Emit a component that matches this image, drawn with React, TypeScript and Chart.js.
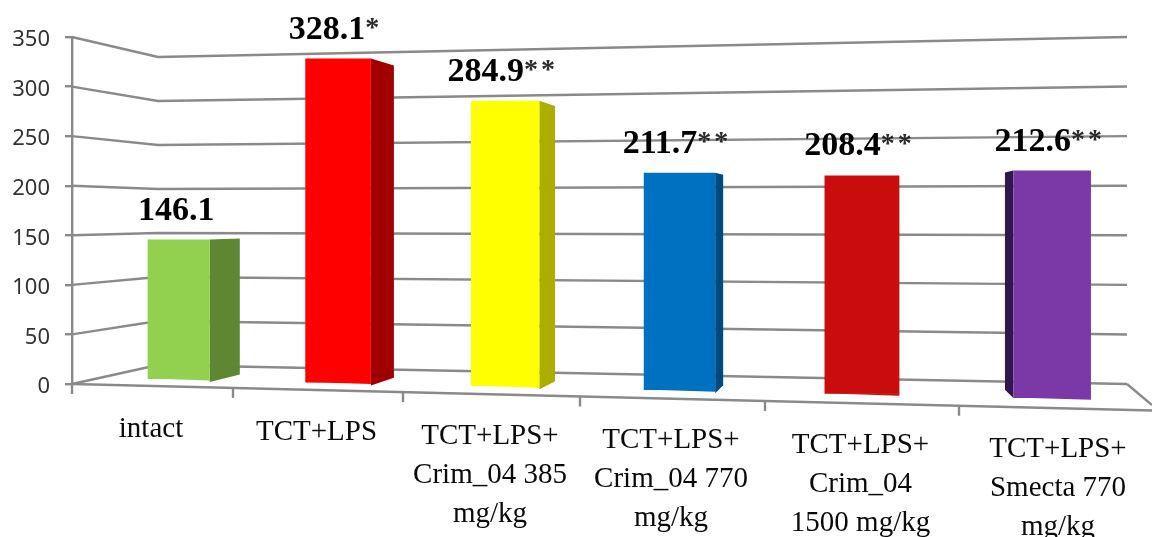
import React, { useEffect, useRef } from "react";
import { Chart, registerables, CategoryScale } from "chart.js";

Chart.register(...registerables);

// Chart content
const categories: string[][] = [
  ["intact"],
  ["TCT+LPS"],
  ["TCT+LPS+", "Crim_04 385", "mg/kg"],
  ["TCT+LPS+", "Crim_04 770", "mg/kg"],
  ["TCT+LPS+", "Crim_04", "1500 mg/kg"],
  ["TCT+LPS+", "Smecta 770", "mg/kg"],
];
const values = [146.1, 328.1, 284.9, 211.7, 208.4, 212.6];
const significance = ["", "*", "**", "**", "**", "**"];
const frontColors = ["#92D050", "#FF0000", "#FFFF00", "#0070C0", "#C90D0D", "#7B39A8"];
const sideColors = ["#5F8733", "#A00000", "#ADAD00", "#004A80", "#8A0808", "#31154F"];

// Perspective set-up of the floor and walls, in canvas pixels
const floorEdges = [72, 233, 403, 580, 765, 959, 1160];
const VANISH_X = 861;
const HORIZON_Y = 215;
const WALL_BACK_X = 158;
const WALL_RIGHT_X = 1127;
const CANVAS_RIGHT = 1152;
const GRID = "#8A8A8A";

const floorMid = (i: number) => (floorEdges[i] + floorEdges[i + 1]) / 2;
const barCentre = (i: number) => {
  const mid = floorMid(i);
  return mid + 0.037 * (VANISH_X - mid);
};
const frontFloorY = (zero: number, x: number) => zero + (x - floorEdges[0]) * 0.0245;
const barBaseY = (zero: number, x: number) => zero - 5 + (x - 147) * 0.0219;
const barDepthY = (y: number) => y + 0.045 * (HORIZON_Y - y);
const wallBackY = (y: number) => y + 0.112 * (HORIZON_Y - y);

// Category axis whose slots follow the receding floor
class FloorCategoryScale extends (CategoryScale as any) {
  static id = "floorCategory";
  static defaults = (CategoryScale as any).defaults;

  getPixelForValue(value: any) {
    const i = typeof value === "number" ? value : (this as any).parse(value);
    return barCentre(i);
  }

  _computeLabelItems(chartArea: any) {
    const items = super._computeLabelItems(chartArea);
    items.forEach((item: any, i: number) => {
      const x = floorMid(i);
      item.textOffset = 0;
      item.options.textAlign = "center";
      item.options.textBaseline = "middle";
      item.options.translation = [x - 1.5, 429 + (x - 151) * 0.0225];
    });
    return items;
  }
}
Chart.register(FloorCategoryScale as any);

const line = (ctx: CanvasRenderingContext2D, pts: number[][]) => {
  ctx.beginPath();
  pts.forEach(([x, y], i) => (i ? ctx.lineTo(x, y) : ctx.moveTo(x, y)));
  ctx.stroke();
};
const fillPoly = (ctx: CanvasRenderingContext2D, pts: number[][], color: string) => {
  ctx.fillStyle = color;
  ctx.beginPath();
  pts.forEach(([x, y], i) => (i ? ctx.lineTo(x, y) : ctx.moveTo(x, y)));
  ctx.closePath();
  ctx.fill();
};

const perspectivePlugin = {
  id: "perspective",
  // Bars stand on the tilted floor and widen towards the viewer
  afterDatasetsUpdate(chart: any) {
    const zero = chart.scales.y.getPixelForValue(0);
    chart.getDatasetMeta(0).data.forEach((el: any, i: number) => {
      const width = 0.386 * (floorEdges[i + 1] - floorEdges[i]);
      el.width = width;
      el.base = barBaseY(zero, el.x - width / 2);
      el.y = el.y - 0.0035 * (el.x - 300);
    });
  },
  // Walls, floor and the depth faces of the bars
  beforeDatasetsDraw(chart: any) {
    const { ctx, scales } = chart;
    const yScale = scales.y;
    const zero = yScale.getPixelForValue(0);
    ctx.save();
    ctx.strokeStyle = GRID;
    ctx.lineWidth = 2.4;
    yScale.ticks.forEach((tick: any) => {
      const y = yScale.getPixelForValue(tick.value);
      line(ctx, [
        [floorEdges[0], y],
        [WALL_BACK_X, wallBackY(y)],
        [WALL_RIGHT_X, y],
      ]);
    });
    line(ctx, [
      [WALL_RIGHT_X, zero],
      [CANVAS_RIGHT, zero + 21],
    ]);
    line(ctx, [
      [floorEdges[0], zero],
      [CANVAS_RIGHT, frontFloorY(zero, CANVAS_RIGHT)],
    ]);
    floorEdges.forEach((x) => {
      const y = frontFloorY(zero, x);
      line(ctx, [
        [x, x === floorEdges[0] ? zero - 1 : y],
        [x, y + 10],
      ]);
    });
    chart.getDatasetMeta(0).data.forEach((el: any, i: number) => {
      const depth = 0.044 * (VANISH_X - el.x);
      if (Math.abs(depth) < 1) return;
      const half = el.width / 2;
      const edge = depth > 0 ? el.x + half : el.x - half;
      const bottom = barBaseY(zero, edge) + (depth > 0 ? 0.0245 * el.width : 0);
      fillPoly(
        ctx,
        [
          [edge, el.y],
          [edge + depth, barDepthY(el.y)],
          [edge + depth, barDepthY(bottom)],
          [edge, bottom],
        ],
        sideColors[i]
      );
    });
    ctx.restore();
  },
  // Sloped lower edge of the bars and the value captions
  afterDatasetsDraw(chart: any) {
    const { ctx } = chart;
    const meta = chart.getDatasetMeta(0);
    ctx.save();
    meta.data.forEach((el: any, i: number) => {
      const half = el.width / 2;
      fillPoly(
        ctx,
        [
          [el.x - half, el.base - 0.5],
          [el.x + half, el.base - 0.5],
          [el.x + half, el.base + 0.0245 * el.width],
        ],
        frontColors[i]
      );

      const number = values[i].toFixed(1);
      const stars = significance[i];
      ctx.textBaseline = "alphabetic";
      ctx.textAlign = "left";
      ctx.font = 'bold 34px "Liberation Serif"';
      ctx.letterSpacing = "0px";
      const numberWidth = ctx.measureText(number).width;
      ctx.font = 'bold 28px "Liberation Serif"';
      ctx.letterSpacing = "3px";
      const starsWidth = ctx.measureText(stars).width;
      ctx.letterSpacing = "0px";
      const left = el.x - 2.5 - (numberWidth + starsWidth) / 2;
      const baseline = el.y - 20;
      ctx.fillStyle = "#000000";
      ctx.font = 'bold 34px "Liberation Serif"';
      ctx.fillText(number, left, baseline);
      if (stars) {
        ctx.fillStyle = "#2A2A2A";
        ctx.font = 'bold 28px "Liberation Serif"';
        ctx.letterSpacing = "3px";
        ctx.fillText(stars, left + numberWidth, baseline - 3);
        ctx.letterSpacing = "0px";
      }
    });
    ctx.restore();
  },
};

export default function App() {
  const canvasRef = useRef<HTMLCanvasElement>(null);

  useEffect(() => {
    const chart = new Chart(canvasRef.current as HTMLCanvasElement, {
      type: "bar",
      data: {
        labels: categories as any,
        datasets: [
          {
            data: values,
            backgroundColor: frontColors,
            borderWidth: 0,
            clip: false as any,
          },
        ],
      },
      options: {
        responsive: false,
        animation: false,
        layout: { padding: { top: 37, left: 0, right: 0, bottom: 0 } },
        plugins: { legend: { display: false }, tooltip: { enabled: false } },
        scales: {
          x: {
            type: "floorCategory" as any,
            grid: { display: false },
            border: { display: false },
            ticks: {
              autoSkip: false,
              maxRotation: 0,
              minRotation: 0,
              color: "#0A0A0A",
              font: { family: '"Liberation Serif"', size: 29, lineHeight: 1.345 },
            },
            afterFit(scale: any) {
              scale.height = 153;
              scale.paddingLeft = 0;
              scale.paddingRight = 0;
            },
          },
          y: {
            min: 0,
            max: 350,
            ticks: {
              stepSize: 50,
              padding: 15,
              labelOffset: 3,
              color: "#333333",
              font: { family: '"Noto Sans"', size: 22 },
            },
            grid: {
              drawOnChartArea: false,
              drawTicks: true,
              tickLength: 7,
              color: GRID,
              lineWidth: 2.4,
            },
            border: { display: true, color: GRID, width: 2.4 },
            afterFit(scale: any) {
              scale.width = 72;
              scale.paddingTop = 0;
              scale.paddingBottom = 0;
            },
          },
        },
      } as any,
      plugins: [perspectivePlugin as any],
    });
    return () => chart.destroy();
  }, []);

  return (
    <canvas
      ref={canvasRef}
      width={1152}
      height={537}
      style={{ position: "absolute", left: 0, top: 0, display: "block" }}
    />
  );
}
